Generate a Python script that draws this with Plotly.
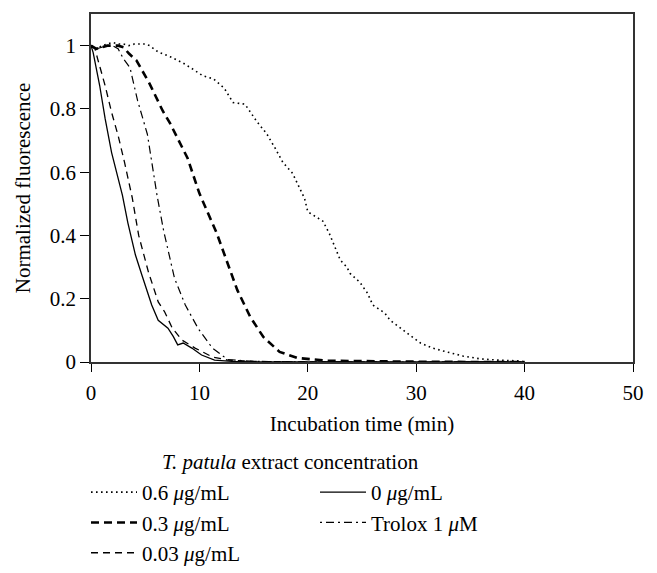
import plotly.graph_objects as go

# ---- data ----
x_06 = [0, 0.5, 1, 1.5, 2, 2.5, 3, 3.5, 4, 4.5, 5, 5.4, 6.2, 7.3, 8.5, 9.2, 10.3, 11.3, 12.3, 13.1, 14.2, 15.3, 16.2, 17.0, 17.7, 18.6, 19.7, 20.0, 21.4, 22.0, 22.5, 23.0, 23.6, 23.9, 24.8, 25.5, 26.0, 27.1, 27.6, 28.5, 29.4, 30.4, 31.5, 32.8, 34.3, 35.9, 37.5, 39.8]
y_06 = [1.0, 0.99, 1.0, 1.005, 1.01, 1.005, 1.005, 1.0, 1.005, 1.005, 1.005, 1.0, 0.98, 0.965, 0.945, 0.93, 0.905, 0.895, 0.865, 0.82, 0.815, 0.76, 0.722, 0.675, 0.631, 0.596, 0.517, 0.475, 0.445, 0.405, 0.363, 0.322, 0.30, 0.28, 0.252, 0.218, 0.18, 0.155, 0.132, 0.107, 0.085, 0.06, 0.044, 0.032, 0.019, 0.01, 0.006, 0.003]

x_03 = [0, 0.5, 1, 1.5, 2, 2.5, 3, 3.5, 4.2, 5.4, 6.6, 7.3, 8.9, 10.0, 11.6, 12.5, 13.5, 14.7, 15.9, 17.4, 19.0, 21.8, 25, 30, 35, 40]
y_03 = [1.0, 0.99, 0.995, 1.0, 1.0, 1.0, 0.995, 0.975, 0.953, 0.88, 0.795, 0.754, 0.645, 0.533, 0.407, 0.322, 0.227, 0.142, 0.079, 0.032, 0.013, 0.004, 0.002, 0.001, 0.0, 0.0]

x_003 = [0, 0.37, 0.6, 1.3, 1.9, 2.5, 3.1, 3.8, 4.4, 5.3, 6.2, 6.8, 7.5, 8.4, 9.6, 11.2, 12.6, 15, 20, 30, 40]
y_003 = [1.0, 0.99, 0.96, 0.874, 0.789, 0.716, 0.63, 0.52, 0.40, 0.284, 0.19, 0.158, 0.107, 0.069, 0.044, 0.016, 0.006, 0.002, 0.0, 0.0, 0.0]

x_0 = [0, 0.2, 0.8, 1.3, 1.9, 2.5, 2.9, 3.4, 4.1, 4.7, 5.6, 6.2, 7.1, 7.6, 8.0, 8.5, 9.3, 10.2, 11.4, 13, 15, 20, 30, 40]
y_0 = [1.0, 0.978, 0.874, 0.77, 0.662, 0.58, 0.527, 0.44, 0.338, 0.274, 0.18, 0.132, 0.107, 0.08, 0.054, 0.06, 0.044, 0.022, 0.006, 0.002, 0.0, 0.0, 0.0, 0.0]

x_trolox = [0, 0.5, 1, 1.5, 2, 2.5, 3.0, 3.6, 4.3, 5.2, 6.1, 6.7, 7.7, 8.7, 9.9, 11.2, 12.6, 15, 20, 30, 40]
y_trolox = [1.0, 0.99, 0.995, 1.0, 1.0, 0.99, 0.958, 0.93, 0.826, 0.72, 0.525, 0.415, 0.265, 0.18, 0.105, 0.044, 0.008, 0.002, 0.0, 0.0, 0.0]

x_ticks = [0, 10, 20, 30, 40, 50]
y_ticks = [0, 0.2, 0.4, 0.6, 0.8, 1]
y_ticklabels = ["0", "0.2", "0.4", "0.6", "0.8", "1"]

FONT = "Liberation Serif, Times New Roman, DejaVu Serif, serif"
FS = 21

fig = go.Figure()
series = [
    ("0.6 <i>μ</i>g/mL", x_06, y_06, dict(color="black", width=1.6, dash="1.6px,3.4px"), 1),
    ("0.3 <i>μ</i>g/mL", x_03, y_03, dict(color="black", width=2.6, dash="8px,5px"), 3),
    ("0.03 <i>μ</i>g/mL", x_003, y_003, dict(color="black", width=1.3, dash="7px,5px"), 5),
    ("0 <i>μ</i>g/mL", x_0, y_0, dict(color="black", width=1.3), 2),
    ("Trolox 1 <i>μ</i>M", x_trolox, y_trolox, dict(color="black", width=1.2, dash="2px,4px,8px,4px"), 4),
]
for name, xs, ys, line, rank in series:
    fig.add_trace(go.Scatter(x=xs, y=ys, mode="lines", name=name, line=line, legendrank=rank))

fig.update_layout(
    width=657, height=573,
    margin=dict(l=91, r=24, t=14, b=211),
    plot_bgcolor="white", paper_bgcolor="white",
    font=dict(family=FONT, size=FS, color="black"),
    showlegend=True,
    legend=dict(
        orientation="h", xref="container", yref="container",
        x=86 / 657, xanchor="left", y=1 - 472 / 573, yanchor="top",
        entrywidth=168, entrywidthmode="pixels",
        font=dict(family=FONT, size=FS, color="black"),
        traceorder="normal", itemwidth=46, bgcolor="rgba(0,0,0,0)",
    ),
    annotations=[dict(
        text="<i>T. patula</i> extract concentration",
        x=(290 - 91) / 542, y=(362 - 462) / 348,
        xref="paper", yref="paper", showarrow=False, xanchor="center", yanchor="middle",
        font=dict(family=FONT, size=FS, color="black"),
    )],
)

fig.update_xaxes(
    range=[0, 50], tickvals=x_ticks, ticks="outside", ticklen=8, tickwidth=1.3, tickcolor="black",
    showline=True, linecolor="#333", linewidth=1.5, mirror=True, showgrid=False, zeroline=False,
    ticklabelstandoff=3,
    title=dict(text="Incubation time (min)", standoff=12, font=dict(family=FONT, size=FS)),
)
fig.update_yaxes(
    range=[0, 1.1], tickvals=y_ticks, ticktext=y_ticklabels, ticks="outside", ticklen=9, tickwidth=1.3,
    tickcolor="black", showline=True, linecolor="#333", linewidth=1.5, mirror=True, showgrid=False,
    zeroline=False,
    title=dict(text="Normalized fluorescence", standoff=13, font=dict(family=FONT, size=FS)),
)

fig.write_html(
    "out.html",
    config={"displayModeBar": False},
    post_script="document.body.style.margin='0';document.documentElement.style.overflow='hidden';",
)
